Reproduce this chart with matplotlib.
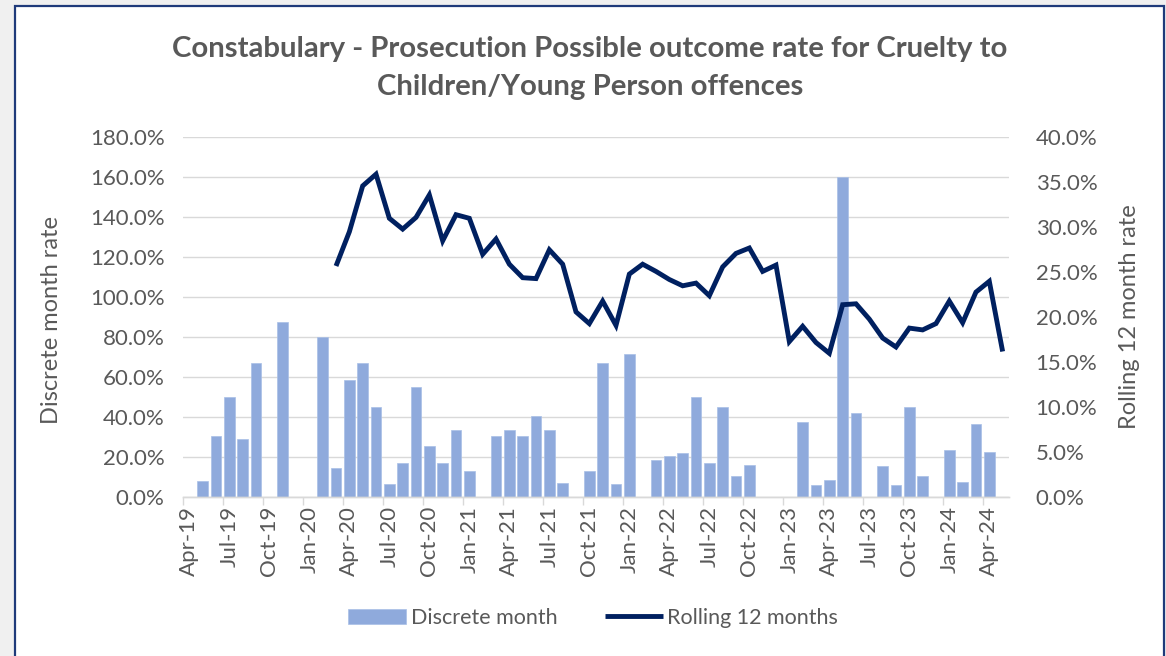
import numpy as np
import matplotlib
matplotlib.use("Agg")
import matplotlib.pyplot as plt
from matplotlib.patches import Rectangle
from matplotlib.ticker import FuncFormatter, FixedLocator

plt.rcParams['font.family'] = ['Lato', 'DejaVu Sans']

months = ["Apr-19", "May-19", "Jun-19", "Jul-19", "Aug-19", "Sep-19", "Oct-19", "Nov-19", "Dec-19",
          "Jan-20", "Feb-20", "Mar-20", "Apr-20", "May-20", "Jun-20", "Jul-20", "Aug-20", "Sep-20",
          "Oct-20", "Nov-20", "Dec-20", "Jan-21", "Feb-21", "Mar-21", "Apr-21", "May-21", "Jun-21",
          "Jul-21", "Aug-21", "Sep-21", "Oct-21", "Nov-21", "Dec-21", "Jan-22", "Feb-22", "Mar-22",
          "Apr-22", "May-22", "Jun-22", "Jul-22", "Aug-22", "Sep-22", "Oct-22", "Nov-22", "Dec-22",
          "Jan-23", "Feb-23", "Mar-23", "Apr-23", "May-23", "Jun-23", "Jul-23", "Aug-23", "Sep-23",
          "Oct-23", "Nov-23", "Dec-23", "Jan-24", "Feb-24", "Mar-24", "Apr-24", "May-24"]

discrete = [0.0, 8.1, 30.6, 50.3, 29.2, 67.0, 0.0, 87.6, 0.0,
            0.0, 80.3, 14.8, 58.6, 67.0, 45.0, 6.8, 17.2, 55.0,
            25.5, 17.2, 33.6, 13.0, 0.0, 30.5, 33.6, 30.5, 40.5,
            33.6, 7.1, 0.0, 13.0, 67.0, 6.6, 71.8, 0.0, 18.6,
            20.5, 22.0, 50.3, 17.2, 45.0, 10.6, 16.0, 0.0, 0.0,
            0.0, 37.8, 6.1, 8.8, 160.0, 42.0, 0.0, 15.6, 6.3,
            45.0, 10.5, 0.0, 23.5, 7.6, 36.8, 22.6, 0.0]

rolling = [np.nan] * 11 + [25.7, 29.5, 34.6, 35.9, 31.0, 29.8, 31.1,
           33.6, 28.5, 31.4, 31.0, 27.0, 28.7, 25.9, 24.4, 24.3,
           27.5, 25.9, 20.6, 19.3, 21.8, 19.1, 24.8, 25.9, 25.1,
           24.2, 23.5, 23.8, 22.4, 25.6, 27.1, 27.7, 25.1, 25.8,
           17.3, 19.0, 17.2, 16.0, 21.4, 21.5, 19.8, 17.7, 16.7,
           18.8, 18.6, 19.3, 21.8, 19.4, 22.8, 24.0, 16.2]

title = "Constabulary - Prosecution Possible outcome rate for Cruelty to\nChildren/Young Person offences"
left_label = "Discrete month rate"
right_label = "Rolling 12 month rate"
bar_name = "Discrete month"
line_name = "Rolling 12 months"

TXT = "#595959"
BAR = "#8faadc"
LINE = "#002060"
GRID = "#d9d9d9"

W, H = 1166, 656
fig = plt.figure(figsize=(W / 100, H / 100), dpi=100)
fig.patch.set_facecolor("#f0f0f0")
# white chart area with navy border
fig.patches.append(Rectangle((14.7 / W, -0.05), (1164.3 - 14.7) / W, 1.05 - 6 / H,
                             transform=fig.transFigure, facecolor="white",
                             edgecolor="#1f3a7a", linewidth=1.6, zorder=-5))

x0, x1 = 182.7, 1009.3
y0, y1 = 497.3, 137.3
ax = fig.add_axes([x0 / W, 1 - y0 / H, (x1 - x0) / W, (y0 - y1) / H])
ax.set_facecolor("none")
ax2 = ax.twinx()

x = np.arange(len(months))
bars = ax.bar(x, discrete, width=0.78, color=BAR, edgecolor="#a9bfe6", linewidth=0.5, zorder=2,
              label=bar_name)
ax.set_xlim(-0.5, len(months) - 0.5)
ax.set_ylim(0, 180)
ax.set_yticks(np.arange(0, 181, 20))
ax.yaxis.set_major_formatter(FuncFormatter(lambda v, p: f"{v:.1f}%"))
ax.grid(axis="y", color=GRID, linewidth=1.0, zorder=0)
ax.set_axisbelow(True)

line, = ax2.plot(x, rolling, color=LINE, linewidth=3.5, solid_joinstyle="miter",
                 solid_capstyle="butt", zorder=3, label=line_name)
ax2.set_ylim(0, 40)
ax2.set_yticks(np.arange(0, 41, 5))
ax2.yaxis.set_major_formatter(FuncFormatter(lambda v, p: f"{v:.1f}%"))

# x ticks: labels every 3 months at centers, tick marks at category boundaries
ax.set_xticks(x[::3])
ax.set_xticklabels(months[::3], rotation=90, fontsize=16, color=TXT)
ax.xaxis.set_minor_locator(FixedLocator(np.arange(-0.5, len(months), 3)))
ax.tick_params(axis="x", which="major", length=0, pad=6)
ax.tick_params(axis="x", which="minor", length=6, width=1.0, color=GRID)

for a in (ax, ax2):
    for s in ("top", "left", "right"):
        a.spines[s].set_visible(False)
    a.spines["bottom"].set_color(GRID)
    a.spines["bottom"].set_linewidth(1.0)
ax.tick_params(axis="y", length=0, labelsize=16, labelcolor=TXT, pad=13)
ax2.tick_params(axis="y", length=0, labelsize=16, labelcolor=TXT, pad=19)

fig.text(52 / W, 1 - 320 / H, left_label, rotation=90, ha="center", va="center",
         fontsize=17, color=TXT)
fig.text(1130 / W, 1 - 317 / H, right_label, rotation=90, ha="center", va="center",
         fontsize=17, color=TXT)

fig.text(590 / W, 1 - 68 / H, title, ha="center", va="center", fontsize=21.2,
         fontweight="bold", color=TXT, linespacing=1.55)

leg = fig.legend([bars, line], [bar_name, line_name], loc="center", ncol=2,
                 bbox_to_anchor=(593 / W, 1 - 618 / H), frameon=False, fontsize=15.5,
                 handlelength=2.7, handletextpad=0.2, columnspacing=2.2, labelcolor=TXT)

fig.savefig("out.png", dpi=100, facecolor=fig.get_facecolor())
